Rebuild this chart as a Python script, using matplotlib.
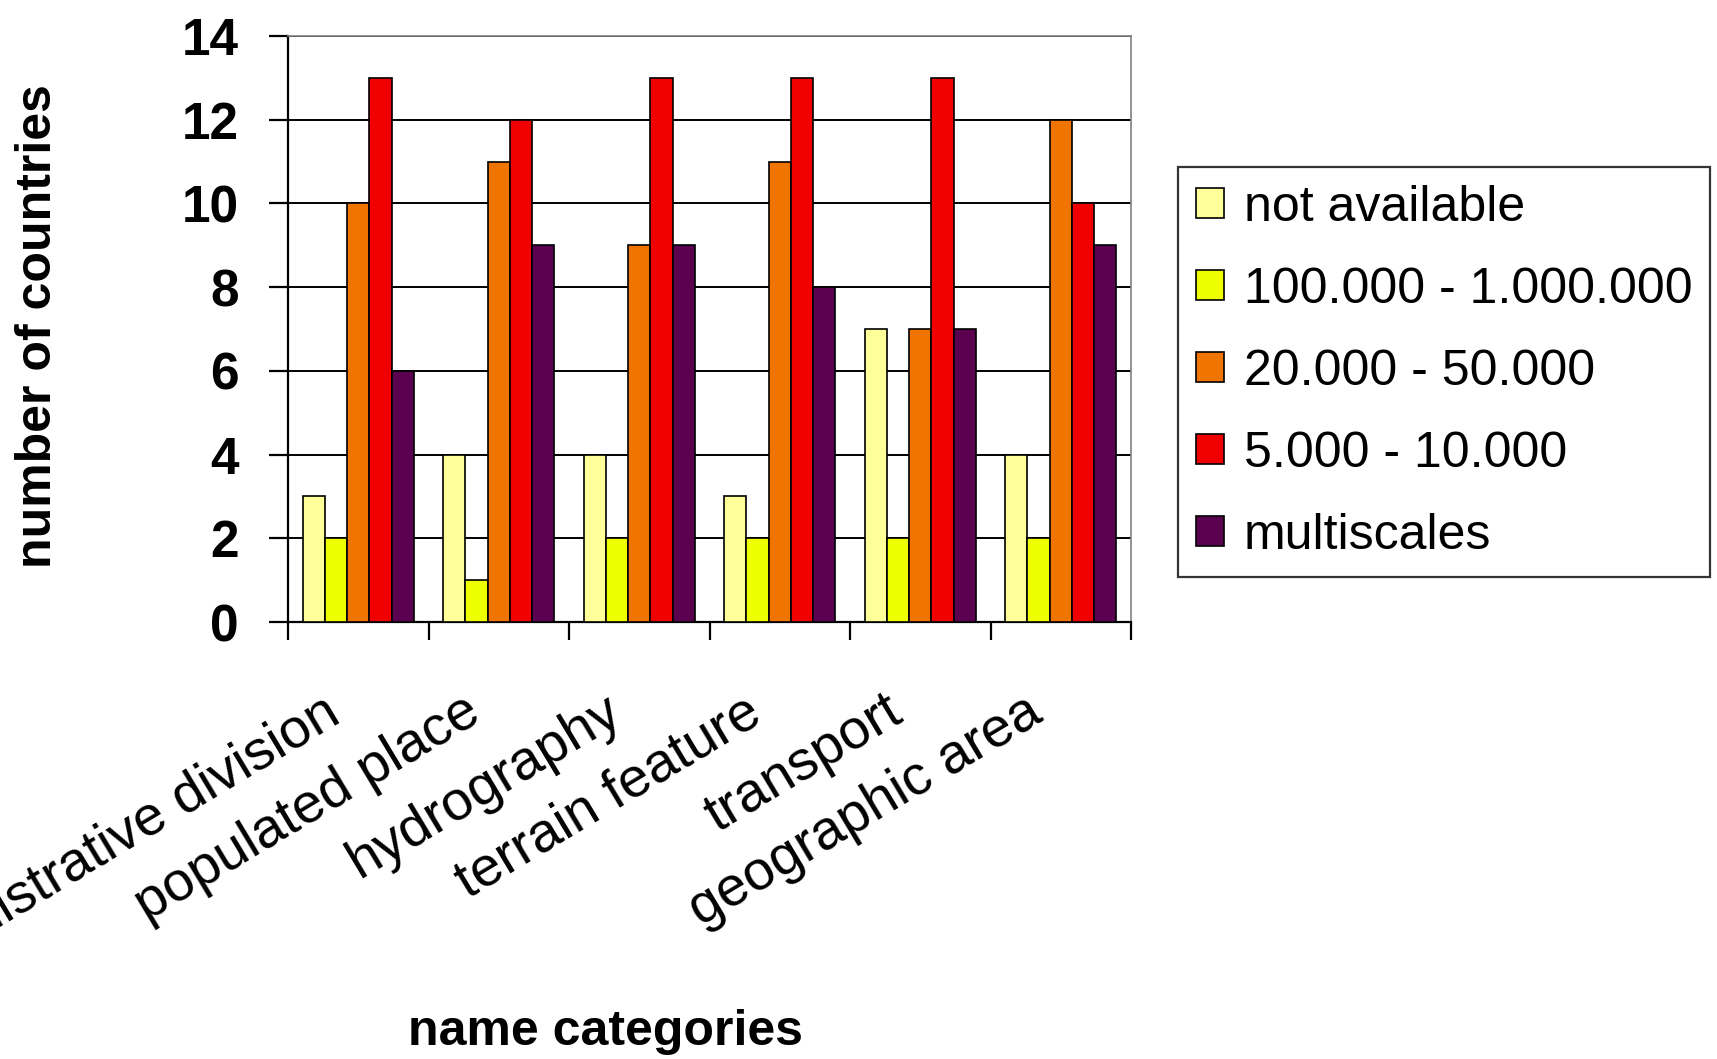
import matplotlib
matplotlib.use("Agg")
import matplotlib.pyplot as plt
import numpy as np
from matplotlib.transforms import ScaledTranslation

plt.rcParams['font.family'] = ['Liberation Sans', 'DejaVu Sans']

# Data
categories = ["administrative division", "populated place", "hydrography",
              "terrain feature", "transport", "geographic area"]
series_names = ["not available", "100.000 - 1.000.000", "20.000 - 50.000",
                "5.000 - 10.000", "multiscales"]
not_available = [3, 4, 4, 3, 7, 4]
scale_100k_1m = [2, 1, 2, 2, 2, 2]
scale_20k_50k = [10, 11, 9, 11, 7, 12]
scale_5k_10k = [13, 12, 13, 13, 13, 10]
multiscales = [6, 9, 9, 8, 7, 9]
y_ticks = [0, 2, 4, 6, 8, 10, 12, 14]

series = [not_available, scale_100k_1m, scale_20k_50k, scale_5k_10k, multiscales]
colors = ["#FFFF99", "#EEFF00", "#F07400", "#F00000", "#5C0050"]

fig = plt.figure(figsize=(17.17, 10.59), dpi=100)
ax = fig.add_axes([288 / 1717, 1 - 622 / 1059, (1131 - 288) / 1717, (622 - 36) / 1059])

x = np.arange(len(categories)) + 0.5
width = 0.158
handles = []
for i, (vals, name, col) in enumerate(zip(series, series_names, colors)):
    h = ax.bar(x + (i - 2) * width, vals, width, color=col, edgecolor="black",
               linewidth=1.2, label=name, zorder=3)
    handles.append(h)

ax.set_xlim(0, len(categories))
ax.set_ylim(0, 14)
ax.set_yticks(y_ticks)
ax.yaxis.grid(True, color="black", linewidth=1.4, zorder=0)
ax.set_axisbelow(True)

for side in ("left", "bottom"):
    ax.spines[side].set_color("black")
    ax.spines[side].set_linewidth(1.6)
for side in ("top", "right"):
    ax.spines[side].set_color("#808080")
    ax.spines[side].set_linewidth(1.2)

# category boundaries carry the tick marks, centres carry the labels
ax.set_xticks(x)
ax.set_xticks(np.arange(len(categories) + 1), minor=True)
ax.set_xticklabels(categories, fontsize=40, rotation=31, ha="right", va="top",
                   rotation_mode="anchor")
ax.tick_params(axis="x", which="major", length=0, pad=46)
ax.tick_params(axis="x", which="minor", length=13, width=1.6, direction="out")
offset = ScaledTranslation(-36 / 100, 0, fig.dpi_scale_trans)
for lab in ax.get_xticklabels():
    lab.set_transform(lab.get_transform() + offset)

ax.tick_params(axis="y", length=13.5, width=1.6, direction="out", pad=22,
               labelsize=37)
for lab in ax.get_yticklabels():
    lab.set_fontweight("bold")

fig.text(38 / 1717, 1 - 326 / 1059, "number of countries", rotation=90,
         fontsize=36, fontweight="bold", ha="center", va="center")
fig.text(605 / 1717, 1 - 1032 / 1059, "name categories",
         fontsize=36, fontweight="bold", ha="center", va="center")

leg = fig.legend(handles=handles, loc="upper left",
                 bbox_to_anchor=(1178 / 1717, 1 - 167 / 1059),
                 fontsize=36, frameon=True, fancybox=False, shadow=False,
                 edgecolor="black", handlelength=0.55, handleheight=0.55,
                 labelspacing=0.72, borderpad=0.36, handletextpad=0.4,
                 borderaxespad=0)
leg.get_frame().set_linewidth(1.6)

fig.savefig("out.png", dpi=100)
